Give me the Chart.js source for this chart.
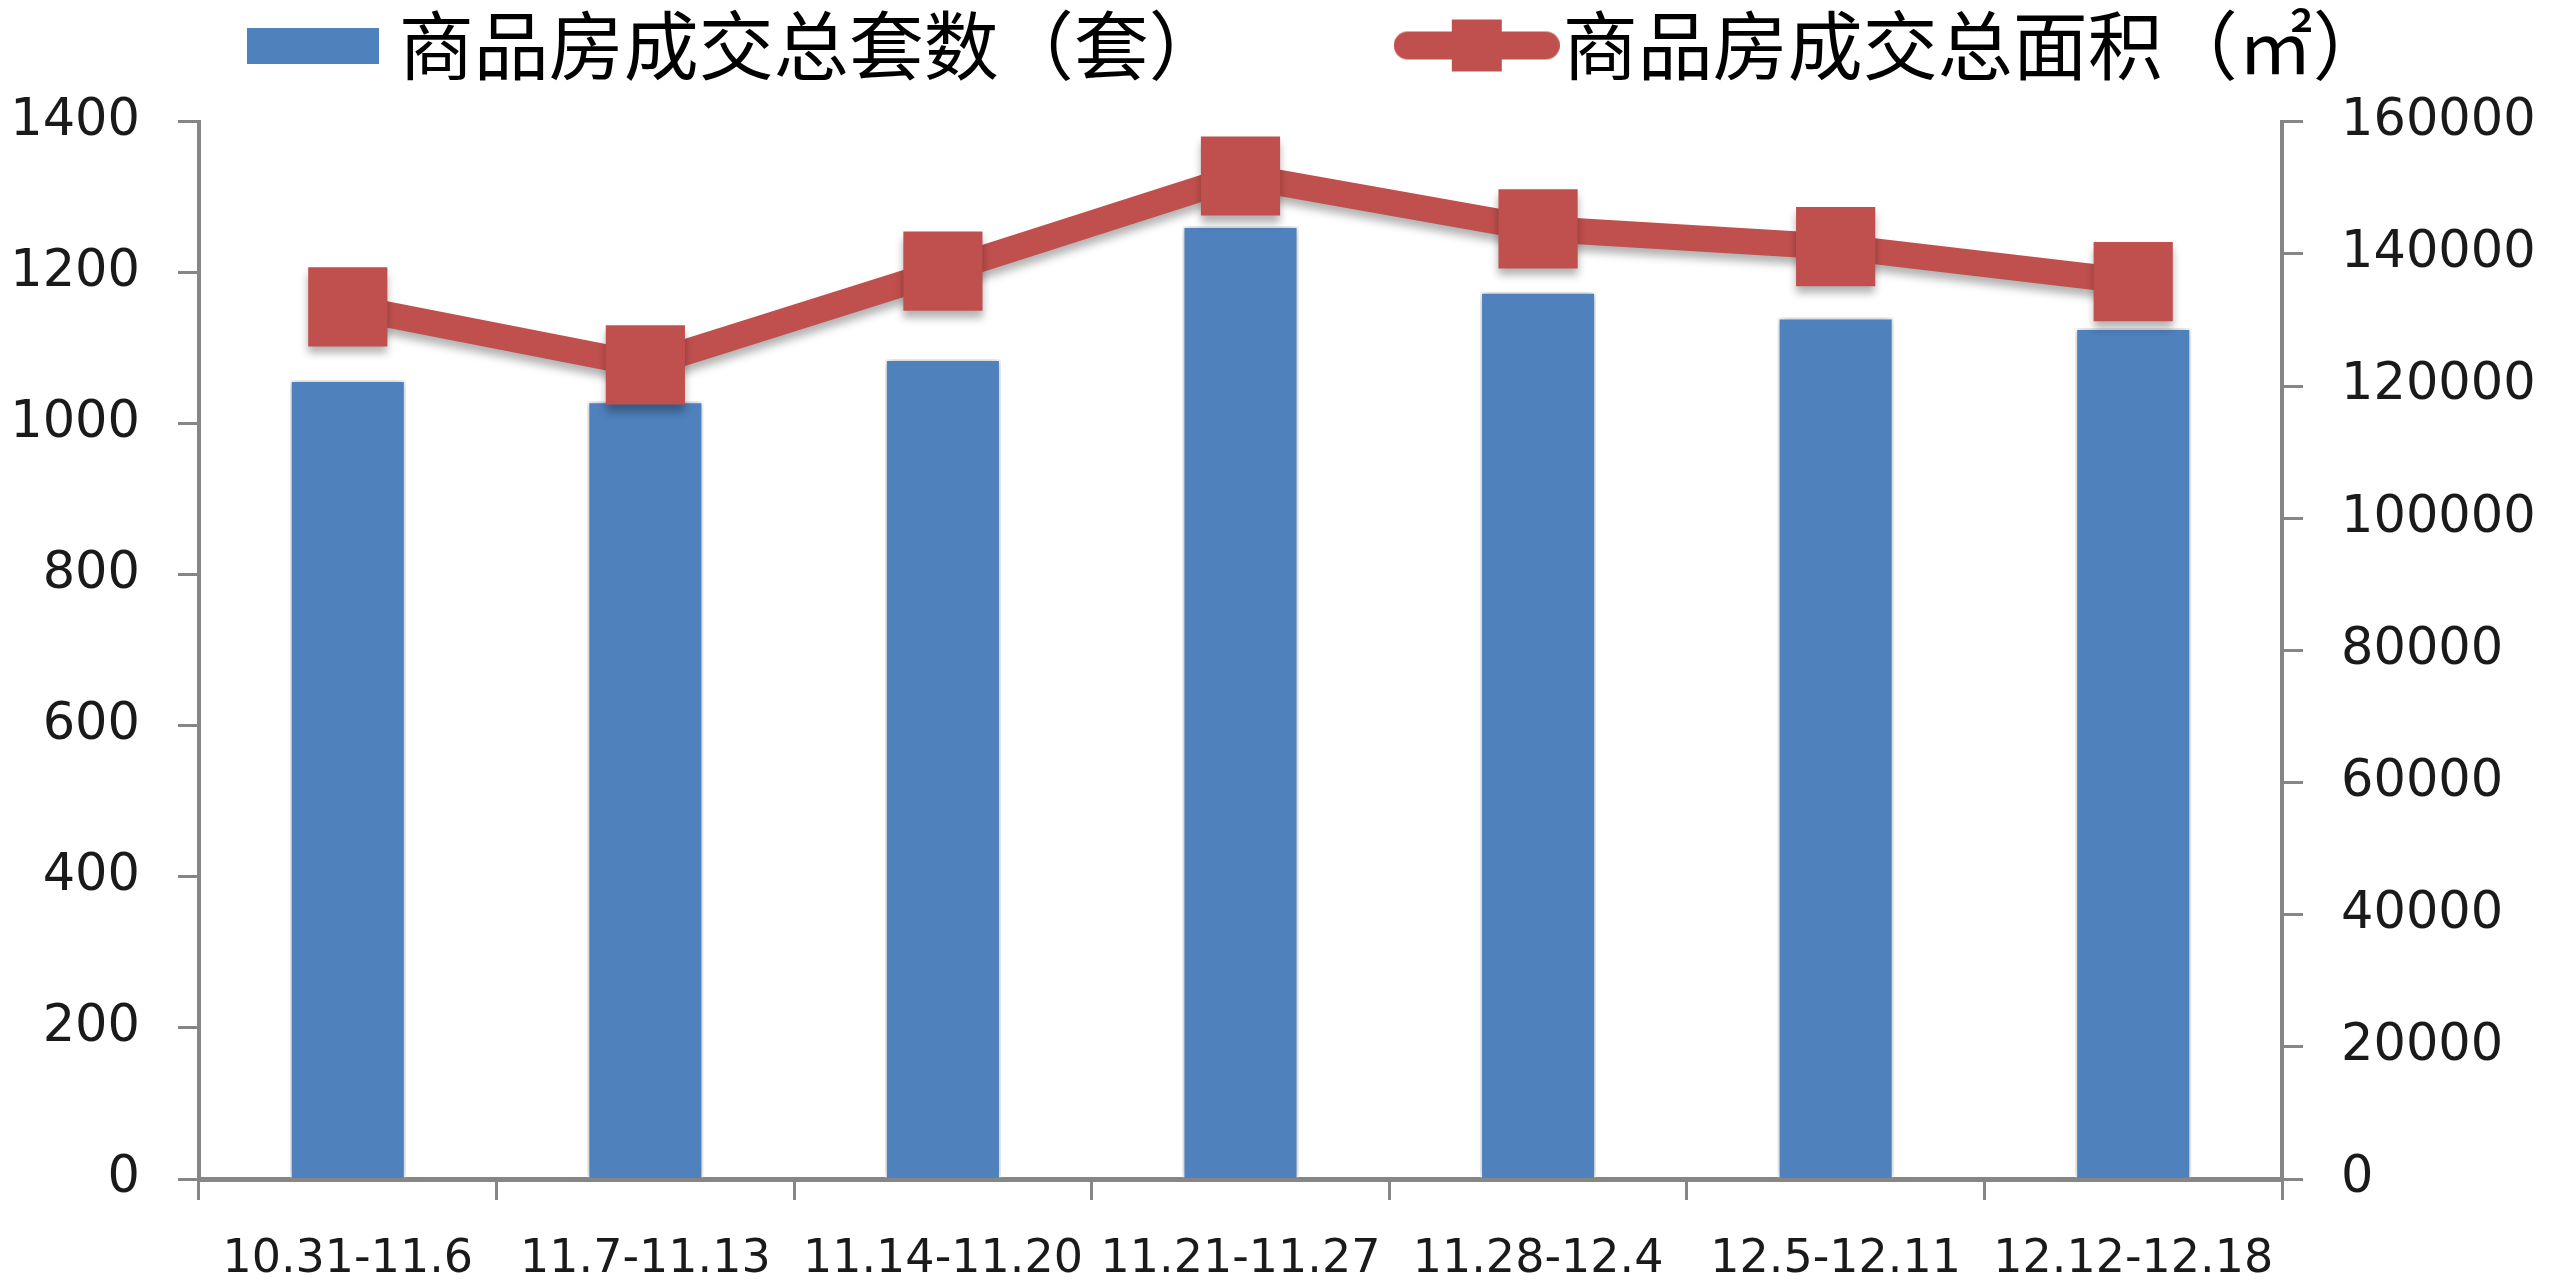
<!DOCTYPE html>
<html>
<head>
<meta charset="utf-8">
<script src="https://cdn.jsdelivr.net/npm/chart.js@4.4.0/dist/chart.umd.min.js"></script>
<style>
  html, body { margin: 0; padding: 0; background: #fff; }
  #wrap { width: 2560px; height: 1281px; }
</style>
</head>
<body>
<div id="wrap"><canvas id="chart"></canvas></div>
<script>
// Datos
const semanas = ["10.31-11.6", "11.7-11.13", "11.14-11.20", "11.21-11.27", "11.28-12.4", "12.5-12.11", "12.12-12.18"];
const totalSets = [1058, 1030, 1086, 1262, 1175, 1141, 1127];
const totalArea = [132000, 123200, 137400, 151800, 143800, 141100, 135800];
const nombres = ["商品房成交总套数（套）", "商品房成交总面积（㎡）"];
const ticksIzq = [0, 200, 400, 600, 800, 1000, 1200, 1400];
const ticksDer = [0, 20000, 40000, 60000, 80000, 100000, 120000, 140000, 160000];

const azul = "#4F81BD";
const rojo = "#C0504D";
const gris = "#868686";

// Iconos de la leyenda
function iconoBarra() {
  const c = document.createElement("canvas");
  c.width = 132; c.height = 36;
  const g = c.getContext("2d");
  g.fillStyle = azul;
  g.fillRect(0, 0, 132, 36);
  return c;
}
function iconoLinea() {
  const c = document.createElement("canvas");
  c.width = 166; c.height = 54;
  const g = c.getContext("2d");
  g.strokeStyle = rojo;
  g.lineWidth = 28;
  g.lineCap = "round";
  g.beginPath(); g.moveTo(14, 27); g.lineTo(152, 27); g.stroke();
  g.fillStyle = rojo;
  g.fillRect(58, 1, 50, 52);
  return c;
}

// Sombra suave como en Excel
const sombra = {
  id: "sombra",
  beforeDatasetDraw(chart, args) {
    const ctx = chart.ctx;
    ctx.save();
    ctx.shadowColor = "rgba(0,0,0,0.3)";
    ctx.shadowBlur = 8;
    ctx.shadowOffsetY = args.meta.type === "line" ? 7 : 0;
  },
  afterDatasetDraw(chart) {
    chart.ctx.restore();
  }
};

// La leyenda del original está algo desplazada a la derecha
const moverLeyenda = {
  id: "moverLeyenda",
  afterLayout(chart) {
    chart.legend.left += 46;
    chart.legend.right += 46;
  }
};

document.addEventListener("DOMContentLoaded", function () {
  const ctx = document.getElementById("chart").getContext("2d");
  const tickFont = { family: "DejaVu Sans", size: 51 };

  new Chart(ctx, {
    type: "bar",
    data: {
      labels: semanas,
      datasets: [
        {
          type: "bar",
          label: nombres[0],
          data: totalSets,
          backgroundColor: azul,
          borderColor: "#ffffff",
          borderWidth: 2,
          barPercentage: 0.39,
          categoryPercentage: 1.0,
          yAxisID: "y",
          order: 2
        },
        {
          type: "line",
          label: nombres[1],
          data: totalArea,
          borderColor: rojo,
          backgroundColor: rojo,
          borderWidth: 26,
          pointStyle: "rect",
          pointRadius: 56,
          pointBorderWidth: 0,
          pointBackgroundColor: rojo,
          tension: 0,
          yAxisID: "y1",
          order: 1
        }
      ]
    },
    options: {
      responsive: true,
      maintainAspectRatio: false,
      animation: false,
      layout: { padding: 0 },
      plugins: {
        tooltip: { enabled: false },
        // título vacío: solo deja aire entre la leyenda y el gráfico
        title: { display: true, text: "", padding: 0, font: { size: 24 }, weight: 500 },
        legend: {
          position: "top",
          labels: {
            usePointStyle: true,
            pointStyleWidth: 97,
            padding: 8,
            color: "#262626",
            font: { family: "Noto Sans CJK SC", size: 75 },
            generateLabels: (chart) => chart.data.datasets.map((ds, i) => ({
              // espacio extra tras la primera entrada, como en el original
              text: i === 0 ? ds.label + "\u3000\u3000     " : ds.label,
              pointStyle: i === 0 ? iconoBarra() : iconoLinea(),
              fillStyle: ds.backgroundColor,
              strokeStyle: ds.backgroundColor,
              lineWidth: 0,
              hidden: false,
              datasetIndex: i
            }))
          }
        }
      },
      scales: {
        x: {
          grid: { display: true, drawOnChartArea: false, offset: true, color: gris, lineWidth: 3, tickLength: 21 },
          border: { display: true, color: gris, width: 5 },
          ticks: { color: "#1a1a1a", font: { family: "DejaVu Sans", size: 46 }, padding: 32, maxRotation: 0, autoSkip: false },
          afterFit: (s) => { s.height = 102; }
        },
        y: {
          position: "left",
          min: 0,
          max: 1400,
          afterBuildTicks: (s) => { s.ticks = ticksIzq.map(v => ({ value: v })); },
          grid: { display: true, drawOnChartArea: false, color: gris, lineWidth: 3, tickLength: 21 },
          border: { display: true, color: gris, width: 4 },
          ticks: { color: "#1a1a1a", font: tickFont, padding: 38, callback: (v) => String(v) },
          afterFit: (s) => { s.width = 199; }
        },
        y1: {
          position: "right",
          min: 0,
          max: 160000,
          afterBuildTicks: (s) => { s.ticks = ticksDer.map(v => ({ value: v })); },
          grid: { display: true, drawOnChartArea: false, color: gris, lineWidth: 3, tickLength: 21 },
          border: { display: true, color: gris, width: 4 },
          ticks: { color: "#1a1a1a", font: tickFont, padding: 38, callback: (v) => String(v) },
          afterFit: (s) => { s.width = 278; }
        }
      }
    },
    plugins: [sombra, moverLeyenda]
  });
});
</script>
</body>
</html>
